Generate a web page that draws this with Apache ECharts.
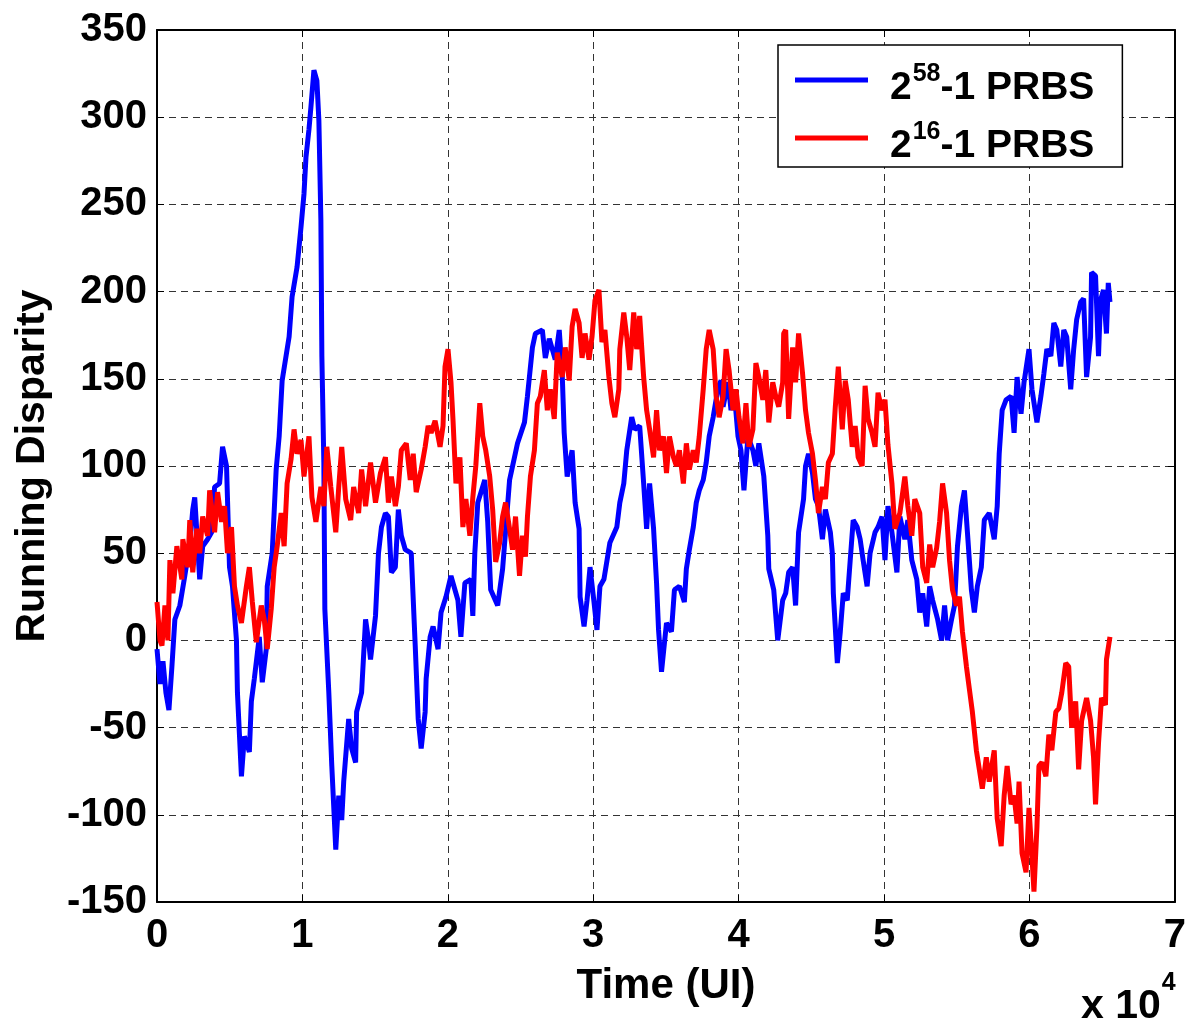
<!DOCTYPE html>
<html>
<head>
<meta charset="utf-8">
<title>Running Disparity</title>
<script src="https://cdn.jsdelivr.net/npm/echarts@6/dist/echarts.min.js"></script>
<style>
  html, body { margin: 0; padding: 0; background: #fff; }
  #chart { width: 1189px; height: 1023px; }
</style>
</head>
<body>
<div id="chart"></div>
<script>
// Running disparity of two PRBS patterns, time in unit intervals (UI)
const seriesNames = ['2^58-1 PRBS', '2^16-1 PRBS'];
const xTicks = [0, 10000, 20000, 30000, 40000, 50000, 60000, 70000];
const yTicks = [-150, -100, -50, 0, 50, 100, 150, 200, 250, 300, 350];

// [time (UI), running disparity]
const prbs58 = [
  [0,-5],[205,-25],[410,-12],[615,-30],[820,-40],[1025,-15],[1229,12],[1571,20],[1912,37],[2254,55],
  [2459,75],[2595,82],[2937,35],[3142,54],[3483,58],[3757,62],[3961,88],[4303,90],[4508,111],[4781,100],
  [4986,42],[5191,31],[5464,0],[5532,-30],[5806,-78],[6010,-55],[6352,-64],[6489,-35],[6693,-22],[7035,2],
  [7240,-24],[7513,-5],[7581,31],[7923,50],[8196,98],[8401,117],[8606,149],[9084,174],[9289,197],[9630,214],
  [9904,237],[10108,256],[10245,277],[10450,293],[10587,306],[10791,327],[10996,321],[11133,298],[11270,241],[11338,163],
  [11474,102],[11543,18],[11816,-30],[12021,-72],[12294,-120],[12499,-89],[12704,-103],[12840,-81],[13182,-45],[13387,-62],
  [13660,-70],[13728,-41],[14070,-30],[14343,12],[14548,0],[14685,-11],[15026,14],[15231,50],[15436,65],[15709,73],
  [15914,71],[16119,39],[16392,42],[16597,75],[16802,60],[17075,52],[17485,50],[17758,-3],[17963,-45],[18168,-62],
  [18441,-41],[18509,-22],[18783,2],[18987,8],[19329,-5],[19534,16],[19875,25],[20217,37],[20695,23],[20900,2],
  [21173,33],[21583,35],[21719,14],[21856,50],[22061,79],[22539,92],[22744,68],[22949,29],[23427,20],[23768,41],
  [24247,92],[24793,113],[25271,125],[25476,140],[25817,168],[26022,176],[26500,178],[26705,162],[26979,173],[27183,167],
  [27388,161],[27662,178],[27866,153],[28003,119],[28208,94],[28549,109],[28754,79],[29028,64],[29096,25],[29369,8],
  [29574,23],[29779,42],[30052,22],[30257,6],[30462,31],[30735,35],[31145,56],[31623,65],[31828,79],[32101,90],
  [32306,109],[32647,128],[32852,121],[33194,123],[33467,90],[33672,64],[33877,90],[34150,64],[34355,33],[34492,6],
  [34696,-18],[35038,10],[35379,5],[35584,29],[35926,31],[36267,22],[36404,41],[36609,52],[36882,65],[37087,79],
  [37292,86],[37565,92],[37770,102],[37975,117],[38248,128],[38590,145],[38794,149],[38931,134],[39273,148],[39477,132],
  [39682,144],[39956,117],[40160,109],[40365,86],[40639,117],[40980,109],[41185,100],[41390,113],[41731,94],[42005,60],
  [42073,41],[42414,29],[42688,0],[43029,23],[43234,27],[43439,39],[43712,42],[43917,20],[44122,62],[44463,81],
  [44600,100],[44805,107],[45078,96],[45283,81],[45488,77],[45761,58],[45966,75],[46307,62],[46444,50],[46512,27],
  [46786,-13],[46990,5],[47195,27],[47469,23],[47673,46],[47878,69],[48152,65],[48356,58],[48561,46],[48835,31],
  [49039,50],[49381,62],[49586,65],[49859,71],[50064,46],[50269,77],[50542,62],[50884,39],[51088,71],[51430,58],
  [51635,69],[51908,46],[52250,35],[52454,16],[52659,27],[52933,8],[53137,31],[53342,23],[53684,12],[53957,0],
  [54162,20],[54367,0],[54640,12],[54845,20],[55050,54],[55323,77],[55528,86],[55733,62],[56006,29],[56211,16],
  [56416,31],[56689,42],[56894,69],[57235,73],[57577,58],[57782,77],[57918,107],[58123,132],[58397,138],[58738,140],
  [58943,119],[59148,151],[59421,130],[59626,148],[59967,167],[60172,144],[60514,125],[60787,140],[60992,153],[61197,167],
  [61470,163],[61675,182],[61880,178],[62153,157],[62358,178],[62563,174],[62836,144],[63041,167],[63246,184],[63519,194],
  [63724,196],[63929,151],[64202,174],[64270,211],[64544,209],[64748,163],[64885,195],[65090,201],[65295,176],[65420,205],
  [65535,194]
];

const prbs16 = [
  [0,22],[205,0],[342,-3],[546,20],[751,0],[888,46],[1093,27],[1366,54],[1708,35],[1776,58],
  [2117,42],[2254,69],[2459,39],[2732,64],[2937,50],[3142,71],[3483,60],[3620,86],[3961,62],[4166,85],
  [4440,68],[4644,77],[4849,50],[5123,65],[5327,31],[5532,20],[5806,10],[6147,31],[6352,42],[6557,22],
  [6830,-1],[7172,20],[7376,12],[7581,-5],[7855,18],[8059,42],[8264,54],[8538,73],[8742,54],[8947,90],
  [9221,104],[9425,121],[9630,107],[9904,115],[10108,94],[10450,117],[10655,82],[10928,68],[11270,88],[11474,77],
  [11679,111],[11953,88],[12294,62],[12499,88],[12704,111],[12977,81],[13319,69],[13523,88],[13865,73],[14070,98],
  [14343,77],[14685,102],[15026,79],[15368,96],[15709,105],[15914,79],[16119,94],[16392,77],[16597,88],[16802,109],
  [17143,113],[17417,92],[17621,107],[17826,85],[18168,98],[18441,111],[18646,123],[18851,119],[19124,126],[19466,111],
  [19670,123],[19807,157],[20012,167],[20217,148],[20353,127],[20558,90],[20832,105],[21036,65],[21241,81],[21515,60],
  [21719,82],[21924,100],[22198,136],[22402,117],[22607,109],[22881,94],[23085,75],[23290,45],[23564,56],[23768,71],
  [23973,79],[24247,64],[24451,52],[24656,71],[24930,37],[25134,60],[25339,48],[25476,71],[25681,94],[25954,109],
  [26159,136],[26364,140],[26637,155],[26842,132],[27047,144],[27320,127],[27525,165],[27866,151],[28071,168],[28345,149],
  [28549,180],[28754,190],[29028,182],[29232,162],[29437,176],[29711,161],[29915,174],[30120,195],[30394,201],[30598,171],
  [30803,178],[31077,151],[31281,136],[31486,128],[31760,144],[31828,167],[32101,188],[32306,174],[32511,155],[32784,188],
  [32989,167],[33194,186],[33467,151],[33672,132],[33877,121],[34150,105],[34355,132],[34560,109],[34833,117],[35038,96],
  [35243,117],[35516,105],[35721,100],[35926,109],[36199,90],[36404,113],[36609,98],[36882,109],[37087,102],[37292,117],
  [37565,144],[37770,167],[37975,178],[38248,167],[38453,140],[38658,128],[38931,140],[39136,167],[39341,155],[39614,132],
  [39819,144],[40024,128],[40297,113],[40502,136],[40707,111],[40980,121],[41185,159],[41390,151],[41663,138],[41868,155],
  [42073,125],[42346,148],[42551,140],[42756,134],[43029,148],[43097,176],[43234,178],[43439,127],[43712,168],[43917,148],
  [44122,176],[44395,153],[44600,132],[44805,119],[45078,107],[45283,92],[45488,73],[45761,88],[45966,81],[46171,102],
  [46444,107],[46649,134],[46854,157],[47127,121],[47332,149],[47537,138],[47810,111],[48015,123],[48220,105],[48493,100],
  [48698,146],[48903,127],[49176,119],[49381,111],[49586,142],[49859,132],[50064,138],[50269,112],[50542,90],[50747,64],
  [51088,73],[51430,94],[51635,77],[51908,60],[52113,81],[52454,73],[52659,42],[52933,33],[53137,55],[53342,42],
  [53616,53],[53820,68],[54025,90],[54299,73],[54503,46],[54708,29],[54982,20],[55186,25],[55391,5],[55665,-15],
  [55869,-28],[56074,-41],[56348,-63],[56552,-74],[56757,-85],[57031,-67],[57235,-81],[57577,-63],[57782,-102],[58055,-118],
  [58260,-89],[58465,-72],[58738,-94],[58943,-89],[59148,-105],[59284,-81],[59489,-122],[59763,-133],[59967,-96],[60172,-124],
  [60309,-144],[60514,-107],[60650,-72],[60855,-70],[61129,-78],[61333,-54],[61538,-63],[61812,-41],[62016,-39],[62221,-30],
  [62495,-13],[62699,-15],[62904,-50],[63178,-35],[63382,-74],[63587,-46],[63929,-33],[64202,-46],[64407,-67],[64544,-94],
  [64748,-59],[64953,-33],[65227,-37],[65295,-11],[65535,2]
];

const FONT = "'Liberation Sans', Arial, Helvetica, sans-serif";
const chart = echarts.init(document.getElementById('chart'), null, { renderer: 'canvas' });

// "2^n-1 PRBS" with a raised exponent
function legendLabel(name) {
  const m = name.match(/^(\d+)\^(\d+)(.*)$/);
  return '{a|' + m[1] + '}{s|' + m[2] + '}{b|' + m[3] + '}';
}

const tickFont = { fontFamily: FONT, fontWeight: 'bold', fontSize: 40, color: '#000' };
const gridLine = { show: true, lineStyle: { color: '#333', width: 1, type: [7, 5] } };

const option = {
  animation: false,
  backgroundColor: '#fff',
  grid: { left: 157, right: 7, top: 30, bottom: 121, containLabel: false },
  legend: {
    orient: 'vertical',
    left: 778,
    top: 45,
    padding: [17, 28, 1, 17],
    itemGap: 12,
    itemWidth: 73,
    itemHeight: 5,
    icon: 'rect',
    backgroundColor: '#fff',
    borderColor: '#000',
    borderWidth: 1.5,
    borderRadius: 0,
    data: seriesNames,
    formatter: legendLabel,
    textStyle: {
      fontFamily: FONT, fontWeight: 'bold', color: '#000',
      rich: {
        a: { fontFamily: FONT, fontWeight: 'bold', fontSize: 39, lineHeight: 56, padding: [0, 0, 0, 17], verticalAlign: 'bottom' },
        s: { fontFamily: FONT, fontWeight: 'bold', fontSize: 25, padding: [10, 0, 0, 1], verticalAlign: 'top' },
        b: { fontFamily: FONT, fontWeight: 'bold', fontSize: 39, lineHeight: 56, verticalAlign: 'bottom' }
      }
    }
  },
  xAxis: [
    {
      type: 'value', position: 'bottom', min: 0, max: 70000, interval: 10000,
      name: 'Time (UI)', nameLocation: 'middle', nameGap: 63,
      nameTextStyle: { fontFamily: FONT, fontWeight: 'bold', fontSize: 42, color: '#000' },
      axisLine: { show: true, onZero: false, lineStyle: { color: '#000', width: 2 } },
      axisTick: { show: true, inside: true, length: 7, lineStyle: { color: '#000', width: 1 } },
      axisLabel: Object.assign({ margin: 14, formatter: v => String(v / 10000) }, tickFont),
      splitLine: gridLine
    },
    {
      type: 'value', position: 'top', min: 0, max: 70000, interval: 10000,
      axisLine: { show: true, onZero: false, lineStyle: { color: '#000', width: 2 } },
      axisTick: { show: true, inside: true, length: 7, lineStyle: { color: '#000', width: 1 } },
      axisLabel: { show: false },
      splitLine: { show: false }
    }
  ],
  yAxis: [
    {
      type: 'value', position: 'left', min: -150, max: 350, interval: 50,
      name: 'Running Disparity', nameLocation: 'middle', nameRotate: 90, nameGap: 104,
      nameTextStyle: { fontFamily: FONT, fontWeight: 'bold', fontSize: 41, color: '#000' },
      axisLine: { show: true, onZero: false, lineStyle: { color: '#000', width: 2 } },
      axisTick: { show: true, inside: true, length: 7, lineStyle: { color: '#000', width: 1 } },
      axisLabel: Object.assign({ margin: 10 }, tickFont),
      splitLine: gridLine
    },
    {
      type: 'value', position: 'right', min: -150, max: 350, interval: 50,
      axisLine: { show: true, onZero: false, lineStyle: { color: '#000', width: 2 } },
      axisTick: { show: true, inside: true, length: 7, lineStyle: { color: '#000', width: 1 } },
      axisLabel: { show: false },
      splitLine: { show: false }
    }
  ],
  series: [
    {
      name: seriesNames[0], type: 'line', xAxisIndex: 0, yAxisIndex: 0,
      data: prbs58, showSymbol: false, symbol: 'none',
      itemStyle: { color: '#0000ff' },
      lineStyle: { color: '#0000ff', width: 5, join: 'bevel' }
    },
    {
      name: seriesNames[1], type: 'line', xAxisIndex: 0, yAxisIndex: 0,
      data: prbs16, showSymbol: false, symbol: 'none',
      itemStyle: { color: '#ff0000' },
      lineStyle: { color: '#ff0000', width: 5, join: 'bevel' }
    }
  ],
  graphic: [
    {
      type: 'text', left: 1081, top: 971, silent: true,
      style: {
        text: '{m|x 10}{e|4}',
        rich: {
          m: { fontFamily: FONT, fontWeight: 'bold', fontSize: 41, lineHeight: 56, verticalAlign: 'bottom', fill: '#000' },
          e: { fontFamily: FONT, fontWeight: 'bold', fontSize: 25, padding: [0, 0, 0, 1], verticalAlign: 'top', fill: '#000' }
        }
      }
    }
  ]
};

chart.setOption(option);
</script>
</body>
</html>
